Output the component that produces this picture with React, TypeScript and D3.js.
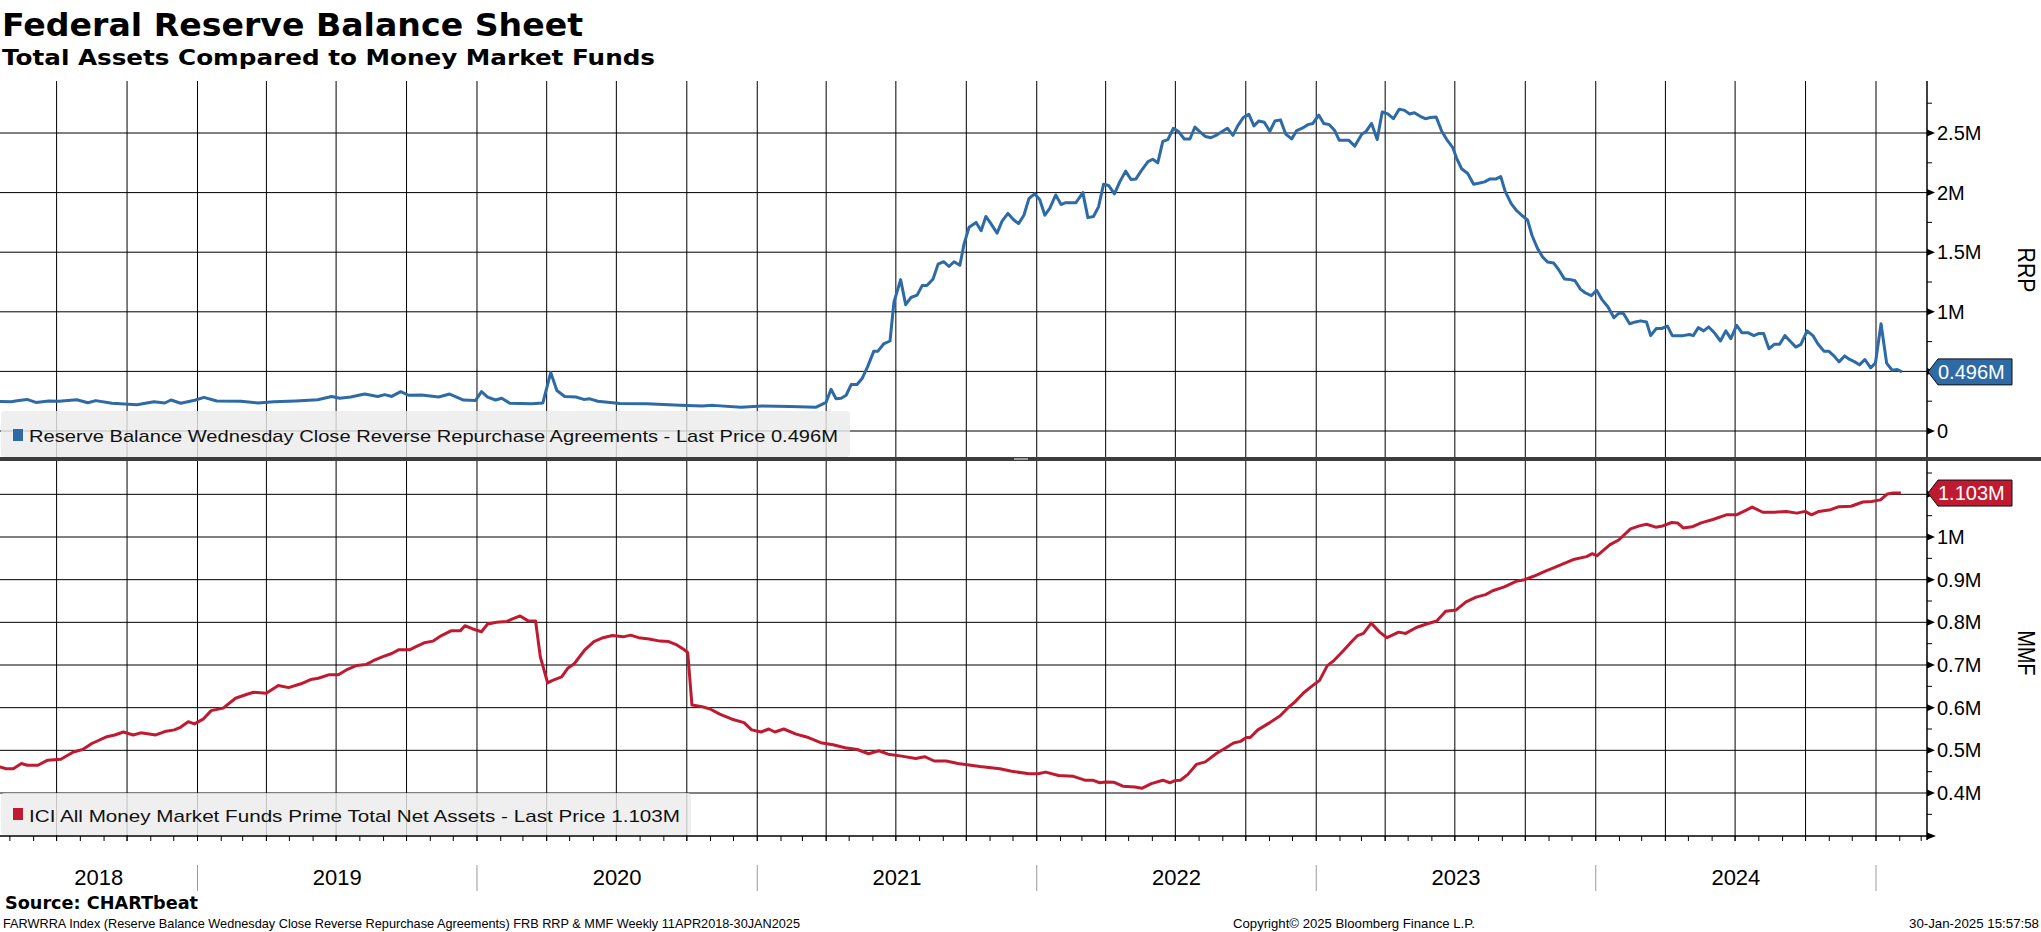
import React from "react";
import * as d3 from "d3";

// ---------- DATA ----------
// Time as decimal years, values in millions (M)
const rrpT = [2018.275,2018.333,2018.361,2018.390,2018.422,2018.468,2018.504,2018.568,2018.608,2018.636,2018.694,2018.783,2018.844,2018.883,2018.905,2018.940,2018.990,2019.023,2019.069,2019.155,2019.216,2019.273,2019.351,2019.430,2019.480,2019.509,2019.548,2019.598,2019.645,2019.670,2019.695,2019.727,2019.755,2019.802,2019.863,2019.902,2019.952,2019.995,2020.016,2020.038,2020.066,2020.088,2020.117,2020.195,2020.235,2020.263,2020.285,2020.313,2020.353,2020.381,2020.403,2020.431,2020.510,2020.606,2020.724,2020.803,2020.842,2020.942,2021.018,2021.118,2021.211,2021.246,2021.264,2021.282,2021.300,2021.318,2021.336,2021.357,2021.375,2021.395,2021.417,2021.432,2021.452,2021.475,2021.489,2021.513,2021.531,2021.550,2021.572,2021.590,2021.607,2021.629,2021.647,2021.667,2021.686,2021.704,2021.725,2021.740,2021.758,2021.783,2021.801,2021.818,2021.836,2021.858,2021.876,2021.897,2021.918,2021.935,2021.954,2021.972,2021.992,2022.011,2022.029,2022.047,2022.068,2022.087,2022.103,2022.140,2022.165,2022.183,2022.203,2022.221,2022.239,2022.257,2022.278,2022.297,2022.318,2022.337,2022.355,2022.373,2022.398,2022.415,2022.433,2022.451,2022.469,2022.489,2022.508,2022.528,2022.548,2022.566,2022.584,2022.604,2022.623,2022.641,2022.662,2022.682,2022.702,2022.719,2022.739,2022.759,2022.777,2022.794,2022.814,2022.834,2022.852,2022.872,2022.891,2022.912,2022.930,2022.950,2022.970,2022.988,2023.009,2023.027,2023.047,2023.066,2023.082,2023.116,2023.138,2023.163,2023.177,2023.198,2023.218,2023.236,2023.256,2023.276,2023.297,2023.316,2023.334,2023.351,2023.372,2023.390,2023.409,2023.429,2023.449,2023.467,2023.488,2023.502,2023.520,2023.542,2023.563,2023.585,2023.602,2023.622,2023.644,2023.660,2023.676,2023.697,2023.716,2023.735,2023.756,2023.772,2023.792,2023.810,2023.828,2023.849,2023.867,2023.888,2023.910,2023.926,2023.945,2023.962,2023.984,2024.003,2024.023,2024.044,2024.065,2024.083,2024.099,2024.121,2024.142,2024.160,2024.181,2024.196,2024.216,2024.235,2024.256,2024.273,2024.312,2024.334,2024.348,2024.366,2024.385,2024.403,2024.425,2024.445,2024.464,2024.482,2024.503,2024.521,2024.543,2024.564,2024.581,2024.599,2024.618,2024.637,2024.656,2024.675,2024.693,2024.714,2024.732,2024.754,2024.775,2024.793,2024.814,2024.831,2024.850,2024.868,2024.888,2024.906,2024.924,2024.941,2024.960,2024.981,2024.998,2025.018,2025.038,2025.058,2025.076,2025.093];
const rrpV = [0.25,0.245,0.255,0.265,0.24,0.252,0.25,0.262,0.237,0.255,0.232,0.22,0.245,0.235,0.26,0.233,0.258,0.282,0.252,0.25,0.235,0.245,0.252,0.262,0.29,0.275,0.285,0.31,0.29,0.305,0.29,0.33,0.3,0.302,0.285,0.31,0.26,0.256,0.33,0.285,0.26,0.275,0.233,0.228,0.235,0.49,0.34,0.29,0.285,0.265,0.27,0.25,0.23,0.228,0.215,0.21,0.215,0.2,0.21,0.205,0.2,0.24,0.35,0.27,0.275,0.3,0.39,0.39,0.44,0.54,0.67,0.67,0.73,0.755,1.08,1.27,1.06,1.12,1.14,1.22,1.22,1.276,1.4,1.42,1.38,1.42,1.39,1.57,1.71,1.75,1.68,1.8,1.74,1.66,1.76,1.825,1.77,1.74,1.81,1.95,1.99,1.94,1.81,1.87,1.98,1.9,1.915,1.915,2.0,1.79,1.8,1.88,2.07,2.06,1.99,2.09,2.18,2.11,2.115,2.18,2.26,2.28,2.25,2.43,2.445,2.54,2.51,2.45,2.45,2.55,2.51,2.47,2.46,2.48,2.51,2.54,2.48,2.56,2.63,2.656,2.56,2.6,2.59,2.515,2.6,2.61,2.49,2.45,2.52,2.54,2.57,2.58,2.65,2.58,2.57,2.52,2.44,2.44,2.39,2.49,2.51,2.58,2.445,2.676,2.66,2.62,2.7,2.69,2.66,2.67,2.64,2.62,2.63,2.635,2.515,2.445,2.38,2.29,2.2,2.16,2.07,2.08,2.09,2.115,2.115,2.135,2.01,1.91,1.85,1.81,1.77,1.64,1.53,1.46,1.417,1.41,1.355,1.276,1.27,1.26,1.19,1.16,1.135,1.18,1.1,1.04,0.95,0.99,0.985,0.9,0.915,0.924,0.915,0.8,0.86,0.86,0.88,0.8,0.8,0.81,0.8,0.867,0.84,0.873,0.82,0.755,0.84,0.775,0.887,0.825,0.825,0.8,0.817,0.817,0.69,0.727,0.727,0.8,0.755,0.704,0.727,0.84,0.8,0.73,0.67,0.67,0.63,0.58,0.63,0.6,0.58,0.555,0.6,0.53,0.57,0.9,0.57,0.51,0.515,0.496];

const mmfT = [2018.275,2018.293,2018.315,2018.341,2018.370,2018.391,2018.429,2018.464,2018.511,2018.556,2018.589,2018.622,2018.676,2018.704,2018.735,2018.770,2018.797,2018.851,2018.883,2018.917,2018.939,2018.967,2018.989,2019.020,2019.049,2019.092,2019.136,2019.180,2019.201,2019.246,2019.289,2019.326,2019.370,2019.405,2019.432,2019.469,2019.504,2019.537,2019.570,2019.602,2019.629,2019.661,2019.695,2019.721,2019.760,2019.782,2019.811,2019.843,2019.873,2019.907,2019.940,2019.957,2019.983,2020.016,2020.038,2020.070,2020.106,2020.127,2020.154,2020.181,2020.209,2020.226,2020.252,2020.270,2020.302,2020.325,2020.347,2020.384,2020.417,2020.450,2020.483,2020.522,2020.548,2020.577,2020.614,2020.653,2020.684,2020.713,2020.741,2020.752,2020.767,2020.799,2020.832,2020.866,2020.910,2020.953,2020.980,2021.014,2021.041,2021.063,2021.095,2021.139,2021.183,2021.227,2021.271,2021.314,2021.358,2021.398,2021.435,2021.468,2021.511,2021.567,2021.599,2021.633,2021.676,2021.718,2021.797,2021.868,2021.910,2021.972,2022.004,2022.032,2022.078,2022.131,2022.172,2022.200,2022.225,2022.246,2022.277,2022.308,2022.351,2022.376,2022.410,2022.451,2022.476,2022.494,2022.514,2022.540,2022.571,2022.603,2022.644,2022.677,2022.704,2022.729,2022.750,2022.764,2022.791,2022.834,2022.871,2022.901,2022.923,2022.955,2022.980,2023.012,2023.039,2023.064,2023.096,2023.127,2023.148,2023.169,2023.197,2023.227,2023.253,2023.295,2023.320,2023.358,2023.395,2023.431,2023.463,2023.501,2023.536,2023.572,2023.606,2023.631,2023.673,2023.715,2023.745,2023.778,2023.820,2023.851,2023.883,2023.924,2023.967,2023.988,2024.004,2024.051,2024.082,2024.124,2024.156,2024.181,2024.214,2024.239,2024.271,2024.292,2024.313,2024.344,2024.376,2024.418,2024.466,2024.502,2024.528,2024.558,2024.596,2024.638,2024.680,2024.718,2024.747,2024.770,2024.796,2024.838,2024.868,2024.911,2024.953,2024.984,2025.016,2025.041,2025.061,2025.089];
const mmfV = [0.462,0.461,0.457,0.457,0.469,0.465,0.465,0.477,0.479,0.496,0.502,0.516,0.532,0.536,0.543,0.536,0.541,0.536,0.544,0.548,0.554,0.567,0.562,0.573,0.593,0.599,0.622,0.632,0.636,0.634,0.652,0.647,0.656,0.666,0.669,0.677,0.677,0.69,0.699,0.701,0.71,0.719,0.727,0.736,0.736,0.743,0.752,0.756,0.769,0.78,0.78,0.792,0.785,0.778,0.796,0.8,0.802,0.808,0.815,0.804,0.803,0.719,0.658,0.664,0.672,0.693,0.703,0.735,0.755,0.764,0.769,0.766,0.77,0.764,0.761,0.756,0.755,0.747,0.735,0.729,0.606,0.603,0.597,0.585,0.573,0.565,0.548,0.543,0.55,0.543,0.55,0.538,0.53,0.518,0.513,0.506,0.502,0.492,0.499,0.491,0.487,0.481,0.485,0.475,0.475,0.469,0.462,0.457,0.451,0.445,0.445,0.449,0.441,0.439,0.43,0.43,0.424,0.426,0.425,0.416,0.414,0.411,0.422,0.43,0.424,0.429,0.43,0.443,0.467,0.473,0.493,0.506,0.517,0.521,0.53,0.53,0.548,0.565,0.581,0.601,0.613,0.635,0.648,0.664,0.698,0.711,0.733,0.755,0.769,0.774,0.798,0.777,0.764,0.777,0.774,0.788,0.796,0.803,0.826,0.829,0.848,0.859,0.865,0.874,0.883,0.896,0.9,0.908,0.92,0.928,0.937,0.948,0.954,0.961,0.956,0.982,0.993,1.019,1.026,1.03,1.023,1.026,1.034,1.033,1.021,1.024,1.033,1.041,1.052,1.052,1.06,1.07,1.058,1.058,1.06,1.056,1.06,1.052,1.06,1.064,1.071,1.072,1.082,1.083,1.087,1.101,1.103,1.103];

const rrpGrid = [0, 0.5, 1, 1.5, 2, 2.5];
const rrpTicks = [0, 1, 1.5, 2, 2.5];
const rrpTickLabels = ["0", "1M", "1.5M", "2M", "2.5M"];
const rrpMinor = [0.25, 0.75, 1.25, 1.75, 2.25, 2.75];
const mmfGrid = [0.4, 0.5, 0.6, 0.7, 0.8, 0.9, 1.0, 1.1];
const mmfTicks = [0.4, 0.5, 0.6, 0.7, 0.8, 0.9, 1.0];
const mmfTickLabels = ["0.4M", "0.5M", "0.6M", "0.7M", "0.8M", "0.9M", "1M"];
const mmfMinor = [0.35, 0.45, 0.55, 0.65, 0.75, 0.85, 0.95, 1.05, 1.15];
const yearLabels = ["2018", "2019", "2020", "2021", "2022", "2023", "2024"];
const rrpLast = 0.496;
const mmfLast = 1.103;

const TITLE = "Federal Reserve Balance Sheet";
const SUBTITLE = "Total Assets Compared to Money Market Funds";
const RRP_LEGEND = "Reserve Balance Wednesday Close Reverse Repurchase Agreements - Last Price 0.496M";
const MMF_LEGEND = "ICI All Money Market Funds Prime Total Net Assets - Last Price 1.103M";
const FOOT_SRC = "Source: CHARTbeat";
const FOOT_DESC = "FARWRRA Index (Reserve Balance Wednesday Close Reverse Repurchase Agreements) FRB RRP & MMF  Weekly 11APR2018-30JAN2025";
const FOOT_COPY = "Copyright\u00a9 2025 Bloomberg Finance L.P.";
const FOOT_DATE = "30-Jan-2025 15:57:58";

// ---------- helpers ----------
function toDate(t: number): Date {
  const y = Math.floor(t);
  const s = new Date(y, 0, 1).getTime();
  const e = new Date(y + 1, 0, 1).getTime();
  return new Date(s + (t - y) * (e - s));
}

const W = 2041;
const H = 932;
const AX = 1927; // right axis x
const UP_TOP = 81, UP_BOT = 457;
const LO_TOP = 461, LO_BOT = 836;
const BLUE = "#2d6aa6";
const RED = "#bf1a30";
const FONT = "'Liberation Sans', Arial, sans-serif";
const BOLD_FONT = "'DejaVu Sans', Verdana, sans-serif";

export default function App() {
  const x = d3.scaleTime().domain([new Date(2018, 0, 1), new Date(2025, 0, 1)]).range([-82, 1876]);
  const yR = d3.scaleLinear().domain([0, 2.5]).range([431, 133]);
  const yM = d3.scaleLinear().domain([0.4, 1.0]).range([793, 537]);

  const rrpData = rrpT.map((t, i) => ({ d: toDate(t), v: rrpV[i] }));
  const mmfData = mmfT.map((t, i) => ({ d: toDate(t), v: mmfV[i] }));
  const lineR = d3.line<{ d: Date; v: number }>().x((p) => x(p.d)).y((p) => yR(p.v));
  const lineM = d3.line<{ d: Date; v: number }>().x((p) => x(p.d)).y((p) => yM(p.v));

  const quarters = d3.timeMonth.range(new Date(2018, 3, 1), new Date(2025, 1, 1), 3).filter((d) => x(d) >= 0 && x(d) < AX);
  const months = d3.timeMonth.range(new Date(2018, 4, 1), new Date(2025, 3, 1)).filter((d) => x(d) >= 0 && x(d) < AX);
  const yearStarts = d3.timeYear.range(new Date(2019, 0, 1), new Date(2025, 6, 1));

  const badge = (cy: number, fill: string, label: string) => (
    <g>
      <polygon
        points={`${AX + 1},${cy} ${AX + 11},${cy - 13} ${2012},${cy - 13} ${2012},${cy + 13} ${AX + 11},${cy + 13}`}
        fill={fill}
        stroke="#111"
        strokeWidth={1}
      />
      <text x={1938} y={cy + 7} fill="#fff" fontSize={20} fontFamily={FONT}>{label}</text>
    </g>
  );

  return (
    <svg width={W} height={H} style={{ position: "absolute", left: 0, top: 0, background: "#fff" }} xmlns="http://www.w3.org/2000/svg">
      <defs>
        <clipPath id="clipUp"><rect x={0} y={UP_TOP} width={AX} height={UP_BOT - UP_TOP} /></clipPath>
        <clipPath id="clipLo"><rect x={0} y={LO_TOP} width={AX} height={LO_BOT - LO_TOP} /></clipPath>
      </defs>
      <rect x={0} y={0} width={W} height={H} fill="#fff" />

      {/* titles */}
      <text x={2} y={36} fontSize={32} fontWeight="bold" fontFamily={BOLD_FONT} textLength={581} lengthAdjust="spacingAndGlyphs">{TITLE}</text>
      <text x={2} y={65} fontSize={21} fontWeight="bold" fontFamily={BOLD_FONT} textLength={653} lengthAdjust="spacingAndGlyphs">{SUBTITLE}</text>

      {/* vertical quarter gridlines */}
      {quarters.map((d, i) => (
        <g key={"q" + i}>
          <line x1={x(d)} x2={x(d)} y1={UP_TOP} y2={UP_BOT} stroke="#000" strokeWidth={1} />
          <line x1={x(d)} x2={x(d)} y1={LO_TOP} y2={LO_BOT + 5} stroke="#000" strokeWidth={1} />
        </g>
      ))}
      {/* horizontal gridlines */}
      {rrpGrid.map((v) => (
        <line key={"rg" + v} x1={0} x2={AX} y1={yR(v)} y2={yR(v)} stroke="#000" strokeWidth={1} />
      ))}
      {mmfGrid.map((v) => (
        <line key={"mg" + v} x1={0} x2={AX} y1={yM(v)} y2={yM(v)} stroke="#000" strokeWidth={1} />
      ))}

      {/* legend boxes */}
      <rect x={1} y={411} width={849} height={46} rx={4} fill="#ebebeb" fillOpacity={0.82} />
      <rect x={13} y={429} width={10} height={12} fill={BLUE} />
      <text x={29} y={442} fontSize={17} fontFamily={FONT} fill="#111" textLength={809} lengthAdjust="spacingAndGlyphs">{RRP_LEGEND}</text>

      <rect x={1} y={793} width={690} height={42} rx={4} fill="#ebebeb" fillOpacity={0.82} />
      <rect x={13} y={808} width={10} height={12} fill={RED} />
      <text x={29} y={822} fontSize={17} fontFamily={FONT} fill="#111" textLength={651} lengthAdjust="spacingAndGlyphs">{MMF_LEGEND}</text>

      {/* data lines */}
      <path d={lineR(rrpData) || ""} fill="none" stroke={BLUE} strokeWidth={3} strokeLinejoin="round" clipPath="url(#clipUp)" />
      <path d={lineM(mmfData) || ""} fill="none" stroke={RED} strokeWidth={3} strokeLinejoin="round" clipPath="url(#clipLo)" />

      {/* right axis */}
      <line x1={AX} x2={AX} y1={UP_TOP} y2={LO_BOT + 4} stroke="#000" strokeWidth={1.5} />
      {rrpGrid.map((v) => (
        <polygon key={"ra" + v} points={`${AX},${yR(v) - 3.5} ${AX + 8},${yR(v)} ${AX},${yR(v) + 3.5}`} fill="#000" />
      ))}
      {mmfGrid.map((v) => (
        <polygon key={"ma" + v} points={`${AX},${yM(v) - 3.5} ${AX + 8},${yM(v)} ${AX},${yM(v) + 3.5}`} fill="#000" />
      ))}
      {rrpMinor.map((v) => (
        <line key={"rm" + v} x1={AX} x2={AX + 5} y1={yR(v)} y2={yR(v)} stroke="#000" strokeWidth={1} />
      ))}
      {mmfMinor.map((v) => (
        <line key={"mm" + v} x1={AX} x2={AX + 5} y1={yM(v)} y2={yM(v)} stroke="#000" strokeWidth={1} />
      ))}
      {rrpTicks.map((v, i) => (
        <text key={"rt" + v} x={1937} y={yR(v) + 7} fontSize={20} fontFamily={FONT} fill="#000">{rrpTickLabels[i]}</text>
      ))}
      {mmfTicks.map((v, i) => (
        <text key={"mt" + v} x={1937} y={yM(v) + 7} fontSize={20} fontFamily={FONT} fill="#000">{mmfTickLabels[i]}</text>
      ))}
      <text transform="translate(2018,270) rotate(90)" textAnchor="middle" fontSize={24} fontFamily={FONT} fill="#000" textLength={45} lengthAdjust="spacingAndGlyphs">RRP</text>
      <text transform="translate(2018,653) rotate(90)" textAnchor="middle" fontSize={24} fontFamily={FONT} fill="#000" textLength={45} lengthAdjust="spacingAndGlyphs">MMF</text>

      {/* last-price badges */}
      {badge(yR(rrpLast), BLUE, "0.496M")}
      {badge(yM(mmfLast), RED, "1.103M")}

      {/* panel divider */}
      <rect x={0} y={457} width={W} height={4} fill="#3c3c3c" />
      <rect x={1014} y={458} width={14} height={2} fill="#9a9a9a" />

      {/* bottom time axis */}
      <line x1={0} x2={AX} y1={LO_BOT} y2={LO_BOT} stroke="#000" strokeWidth={1.5} />
      <polygon points={`${AX},${LO_BOT - 3.5} ${AX + 9},${LO_BOT} ${AX},${LO_BOT + 3.5}`} fill="#000" />
      {months.map((d, i) => (
        <line key={"mo" + i} x1={x(d)} x2={x(d)} y1={LO_BOT} y2={LO_BOT + 5} stroke="#000" strokeWidth={1} />
      ))}
      {yearStarts.map((d, i) => (
        <line key={"ys" + i} x1={x(d)} x2={x(d)} y1={865} y2={891} stroke="#9a9a9a" strokeWidth={1} />
      ))}
      {yearLabels.map((lab, i) => {
        const a = Math.max(0, x(new Date(2018 + i, 0, 1)));
        const b = x(new Date(2019 + i, 0, 1));
        return (
          <text key={lab} x={(a + b) / 2} y={885} textAnchor="middle" fontSize={22} fontFamily={FONT} fill="#000">{lab}</text>
        );
      })}

      {/* footer */}
      <text x={5} y={909} fontSize={17} fontWeight="bold" fontFamily={BOLD_FONT} textLength={193} lengthAdjust="spacingAndGlyphs">{FOOT_SRC}</text>
      <text x={3} y={928} fontSize={13} fontFamily={FONT} textLength={797} lengthAdjust="spacingAndGlyphs">{FOOT_DESC}</text>
      <text x={1233} y={928} fontSize={13} fontFamily={FONT} textLength={242} lengthAdjust="spacingAndGlyphs">{FOOT_COPY}</text>
      <text x={1909} y={928} fontSize={13} fontFamily={FONT} textLength={130} lengthAdjust="spacingAndGlyphs">{FOOT_DATE}</text>
    </svg>
  );
}
